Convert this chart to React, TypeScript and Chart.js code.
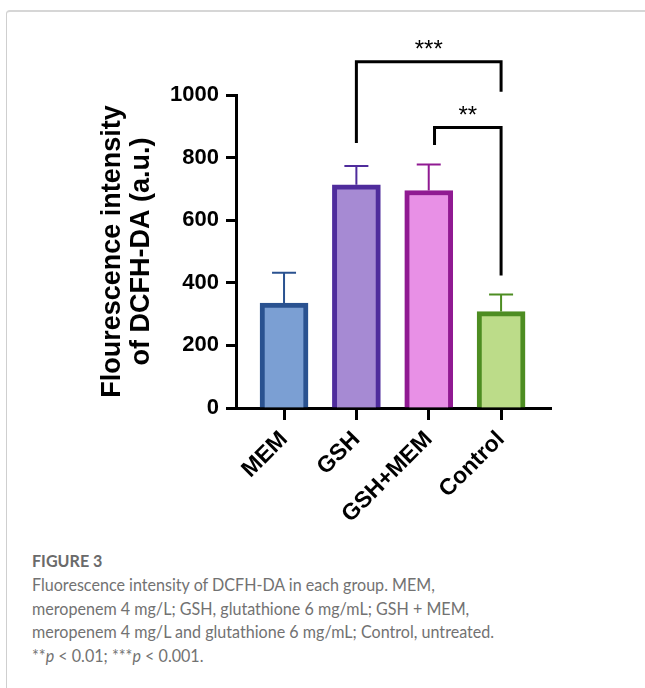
import React, { useEffect, useRef } from 'react';
import { Chart, registerables } from 'chart.js';

Chart.register(...registerables);

const categories = ['MEM', 'GSH', 'GSH+MEM', 'Control'];
const meanValues = [335, 713, 695, 308];
const sdValues = [97, 60, 83, 55];
const fillColors = ['#7b9fd3', '#a68ad3', '#e890e6', '#bcdc89'];
const borderColors = ['#2a5290', '#4f2c9c', '#901a92', '#4d8d22'];
const yTickValues = [0, 200, 400, 600, 800, 1000];
const yTitleLines = ['Flourescence intensity', 'of DCFH-DA (a.u.)'];

const brackets = [
  { from: 1, to: 3, leftEnd: 847, rightEnd: 1010, top: 1106, label: '***' },
  { from: 2.08, to: 3, leftEnd: 840, rightEnd: 423, top: 896, label: '**' },
];

const X_MIN = -0.664;
const X_MAX = 3.69;
const FONT = '"Liberation Sans", Arial, Helvetica, sans-serif';

const annotationPlugin = {
  id: 'annotations',
  afterDatasetsDraw(chart: any) {
    const { ctx } = chart;
    const xs = chart.scales.x;
    const ys = chart.scales.y;
    ctx.save();
    // error bars (upper only)
    meanValues.forEach((v, i) => {
      const x = xs.getPixelForValue(i);
      const yBar = ys.getPixelForValue(v);
      const yTop = ys.getPixelForValue(v + sdValues[i]);
      ctx.strokeStyle = borderColors[i];
      ctx.lineWidth = 2;
      ctx.lineCap = 'butt';
      ctx.beginPath();
      ctx.moveTo(x, yBar);
      ctx.lineTo(x, yTop);
      ctx.moveTo(x - 12, yTop);
      ctx.lineTo(x + 12, yTop);
      ctx.stroke();
    });
    // significance brackets
    brackets.forEach((b) => {
      const x1 = xs.getPixelForValue(b.from);
      const x2 = xs.getPixelForValue(b.to);
      const yT = ys.getPixelForValue(b.top);
      ctx.strokeStyle = '#000';
      ctx.lineWidth = 3;
      ctx.lineJoin = 'miter';
      ctx.beginPath();
      ctx.moveTo(x1, ys.getPixelForValue(b.leftEnd));
      ctx.lineTo(x1, yT);
      ctx.lineTo(x2, yT);
      ctx.lineTo(x2, ys.getPixelForValue(b.rightEnd));
      ctx.stroke();
      ctx.fillStyle = '#000';
      ctx.font = `24px ${FONT}`;
      ctx.textAlign = 'center';
      ctx.textBaseline = 'middle';
      ctx.fillText(b.label, (x1 + x2) / 2, yT - 11);
    });
    ctx.restore();
  },
};

function BarChart() {
  const ref = useRef<HTMLCanvasElement>(null);
  useEffect(() => {
    const canvas = ref.current!;
    const chart = new Chart(canvas, {
      type: 'bar',
      data: {
        datasets: [
          {
            data: categories.map((c, i) => ({ x: i, y: meanValues[i] })),
            backgroundColor: fillColors,
            borderColor: borderColors,
            borderWidth: 5,
            borderSkipped: 'start',
            barThickness: 48,
          } as any,
        ],
      },
      options: {
        responsive: false,
        animation: false,
        devicePixelRatio: 1,
        layout: { padding: { left: 99, right: 94, top: 95, bottom: 0 } },
        plugins: { legend: { display: false }, tooltip: { enabled: false } },
        scales: {
          x: {
            type: 'linear',
            min: X_MIN,
            max: X_MAX,
            offset: false,
            z: 1,
            grid: { drawOnChartArea: false, offset: false, tickLength: 12, tickWidth: 3, tickColor: '#000' },
            border: { display: true, width: 3, color: '#000' },
            ticks: {
              stepSize: 1,
              includeBounds: false,
              autoSkip: false,
              minRotation: 45,
              maxRotation: 45,
              padding: 6,
              color: '#000',
              font: { family: FONT, size: 23, weight: 'bold' },
              callback: (v: any) => (Number.isInteger(v) ? categories[v] ?? '' : ''),
            },
            afterFit: (s: any) => {
              s.height = 132;
            },
          } as any,
          y: {
            min: 0,
            max: 1000,
            grid: { drawOnChartArea: false, tickLength: 10, tickWidth: 3, tickColor: '#000' },
            border: { display: true, width: 3, color: '#000' },
            afterBuildTicks: (s: any) => {
              s.ticks = yTickValues.map((v) => ({ value: v }));
            },
            ticks: {
              padding: 7,
              color: '#000',
              font: { family: FONT, size: 22, weight: 'bold' },
              callback: (v: any) => String(v),
            },
            title: {
              display: true,
              text: yTitleLines,
              color: '#000',
              padding: 0,
              font: { family: FONT, size: 27, weight: 'bold', lineHeight: 1.04 },
            },
            afterFit: (s: any) => {
              s.width = 137;
            },
          } as any,
        },
      },
      plugins: [annotationPlugin],
    });
    return () => chart.destroy();
  }, []);
  return (
    <canvas
      ref={ref}
      width={645}
      height={540}
      style={{ position: 'absolute', left: 0, top: 0, width: 645, height: 540 }}
    />
  );
}

export default function App() {
  return (
    <div>
      <style>{'html,body{margin:0;padding:0;overflow:hidden;background:#fff}'}</style>
      <div
        style={{
          position: 'absolute',
          left: 6,
          top: 10,
          width: 645,
          height: 700,
          borderLeft: '1px solid #cfcfcf',
          borderTop: '2px solid #d6d6d6',
          borderTopLeftRadius: 4,
          boxSizing: 'border-box',
        }}
      />
      <BarChart />
      <div
        style={{
          position: 'absolute',
          left: 32,
          top: 549,
          fontFamily: 'Lato, "Open Sans", sans-serif',
          fontSize: 17.5,
          lineHeight: '23.75px',
          color: '#727272',
          whiteSpace: 'nowrap',
          transform: 'scaleX(0.92)',
          transformOrigin: 'left top',
        }}
      >
        <div style={{ fontWeight: 'bold', color: '#6a6a6a' }}>FIGURE 3</div>
        <div>Fluorescence intensity of DCFH-DA in each group. MEM,</div>
        <div>meropenem 4 mg/L; GSH, glutathione 6 mg/mL; GSH + MEM,</div>
        <div>meropenem 4 mg/L and glutathione 6 mg/mL; Control, untreated.</div>
        <div>
          **<i>p</i> &lt; 0.01; ***<i>p</i> &lt; 0.001.
        </div>
      </div>
    </div>
  );
}
